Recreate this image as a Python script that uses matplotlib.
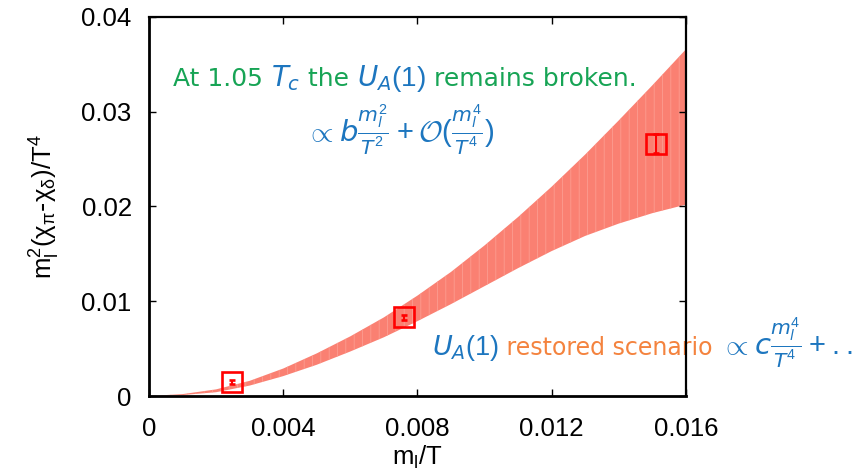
import matplotlib
matplotlib.use("Agg")
import matplotlib.pyplot as plt

plt.rcParams['font.family'] = ['DejaVu Sans']
plt.rcParams['mathtext.fontset'] = 'custom'
plt.rcParams['mathtext.rm'] = 'Liberation Sans'
plt.rcParams['mathtext.it'] = 'DejaVu Sans:italic'
plt.rcParams['mathtext.cal'] = 'cmsy10'
plt.rcParams['hatch.color'] = '#fca296'
plt.rcParams['hatch.linewidth'] = 0.5

# band (fit with uncertainty)
band_x = [0.0, 0.001, 0.002, 0.003, 0.004, 0.005, 0.006, 0.007, 0.008,
          0.009, 0.010, 0.011, 0.012, 0.013, 0.014, 0.015, 0.016]
band_lo = [0.0, 0.0001, 0.0004, 0.0011, 0.0021, 0.0033, 0.0047, 0.0062, 0.0079,
           0.0097, 0.0116, 0.0135, 0.0153, 0.0169, 0.0182, 0.0193, 0.0202]
band_hi = [0.0, 0.0002, 0.0007, 0.0016, 0.0029, 0.0045, 0.0063, 0.0083, 0.0106,
           0.0131, 0.0159, 0.0189, 0.0221, 0.0255, 0.0291, 0.0328, 0.0366]

# lattice points
pts_x = [0.00247, 0.0076, 0.01512]
pts_y = [0.00147, 0.0083, 0.0266]
pts_err = [0.00025, 0.00025, 0.0010]

xticks = [0, 0.004, 0.008, 0.012, 0.016]
xticklabels = ['0', '0.004', '0.008', '0.012', '0.016']
yticks = [0, 0.01, 0.02, 0.03, 0.04]
yticklabels = ['0', '0.01', '0.02', '0.03', '0.04']

green = '#17a455'
blue = '#1d76bf'
orange = '#f4833e'

fig = plt.figure(figsize=(8.58, 4.73), dpi=100)
ax = fig.add_axes([149 / 858, 77 / 473, 537 / 858, 379 / 473])

ax.fill_between(band_x, band_lo, band_hi, facecolor='#fa8072', edgecolor='none',
                hatch='||', linewidth=0, zorder=1)
ax.errorbar(pts_x, pts_y, yerr=pts_err, fmt='s', ms=15, mfc='none', mec='red',
            mew=1.9, ecolor='red', elinewidth=1.5, capsize=2.5, capthick=1.5, zorder=3)

ax.set_xlim(0, 0.016)
ax.set_ylim(0, 0.04)
ax.set_xticks(xticks)
ax.set_xticklabels(xticklabels)
ax.set_yticks(yticks)
ax.set_yticklabels(yticklabels)
for lab in ax.get_xticklabels() + ax.get_yticklabels():
    lab.set_family('Liberation Sans')
    lab.set_fontsize(18.5)
ax.tick_params(direction='in', length=5, width=1, top=True, right=True)
ax.tick_params(axis='x', pad=15)
ax.tick_params(axis='y', pad=12.5)
for s in ax.spines.values():
    s.set_linewidth(1.6)
ax.spines['left'].set_linewidth(2)
ax.spines['bottom'].set_linewidth(2)

ax.set_xlabel(r'$\mathrm{m_l/T}$', fontsize=18.5, labelpad=2)
ax.set_ylabel(r'$\mathrm{m_l^2(\chi_\pi}$-$\mathrm{\chi_\delta)/T^4}$', fontsize=18.5, labelpad=14)


def colored_line(x, y, pieces):
    # pieces of text placed one after another on the same baseline
    fig.canvas.draw()
    r = fig.canvas.get_renderer()
    for s, c, size in pieces:
        t = ax.text(x, y, s, color=c, fontsize=size, transform=ax.transAxes,
                    va='baseline', ha='left', zorder=2)
        bb = t.get_window_extent(renderer=r)
        x = ax.transAxes.inverted().transform((bb.x1, bb.y0))[0]


colored_line(0.045, 0.818, [('At 1.05 ', green, 18), (r'$T_c$', blue, 20),
                            (' the ', green, 18), (r'$U_A(1)$', blue, 20),
                            (' remains broken.', green, 18)])
ax.text(0.29, 0.67, r'$\propto b\frac{m_l^2}{T^2}+\mathcal{O}(\frac{m_l^4}{T^4})$',
        color=blue, fontsize=21, transform=ax.transAxes, va='baseline', ha='left')
colored_line(0.527, 0.108, [(r'$U_A(1)$', blue, 19.5), (' restored scenario ', orange, 17),
                            (r'$\propto c\frac{m_l^4}{T^4}+..$', blue, 21)])

fig.savefig('out.png', dpi=100)
